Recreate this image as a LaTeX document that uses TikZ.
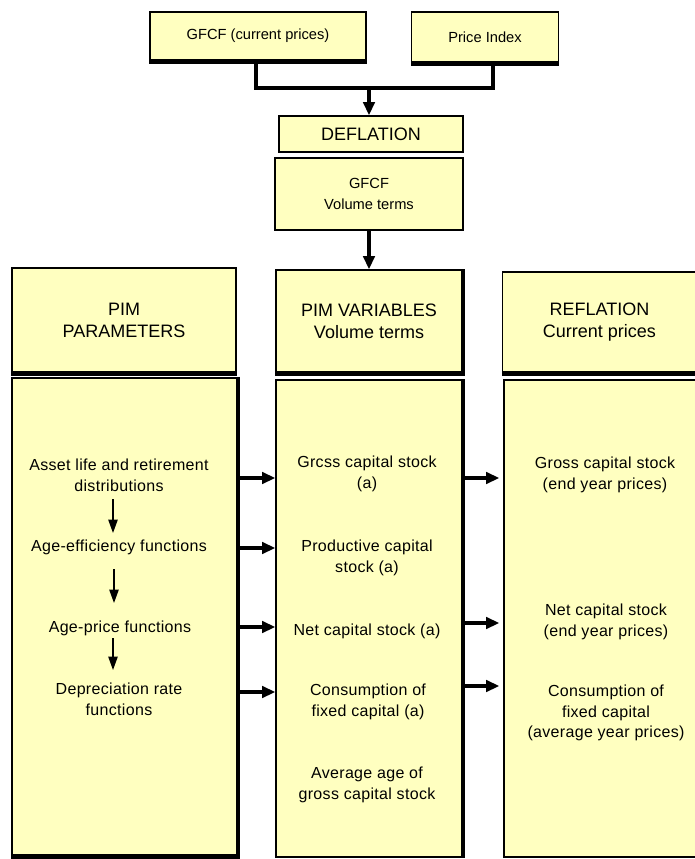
\documentclass[tikz,border=0pt]{standalone}
\usepackage{fontspec}
\setmainfont{Liberation Sans}
\usetikzlibrary{arrows.meta,calc}
\definecolor{boxfill}{RGB}{255,255,192}
\tikzset{
  pbox/.style={draw=black, line width=0.9pt, fill=boxfill, inner sep=0pt, align=center, font=\fontsize{11}{15.5}\selectfont},
  hbox/.style={pbox, font=\fontsize{13.5}{16.5}\selectfont},
  txt/.style={align=center, inner sep=0pt, font=\fontsize{12}{15.5}\selectfont\addfontfeatures{LetterSpace=2}},
  shadow/.style={line width=3pt, line cap=butt, line join=miter},
  bigarrow/.style={line width=3pt, -{Triangle[length=10pt,width=8.5pt]}},
  smallarrow/.style={line width=1pt, -{Triangle[length=10pt,width=7pt]}}
}
\begin{document}
\begin{tikzpicture}[x=0.75pt,y=-0.75pt]
\useasboundingbox (0,0) rectangle (694,859);
% top boxes
\node[pbox, minimum width=162pt, minimum height=36pt] (gfcf) at (258,36) {GFCF (current prices)};
\node[pbox, minimum width=110pt, minimum height=37.5pt] (pidx) at (485,37) {Price Index};
\draw[shadow] ([yshift=-1.2pt]gfcf.south west) -- ([yshift=-1.2pt]gfcf.south east);
\draw[shadow] ([yshift=-1.2pt]pidx.south west) -- ([yshift=-1.2pt]pidx.south east);
\node[pbox, font=\fontsize{13.5}{15}\selectfont, minimum width=138pt, minimum height=27pt] (defl) at (371,134) {DEFLATION};
\node[pbox, minimum width=141pt, minimum height=54pt] (vol) at (369,194) {GFCF\\Volume terms};
% merge connector
\coordinate (join) at (369,88);
\draw[line width=3pt, line join=miter] ([xshift=-1.5pt]gfcf.south) |- (join) -| ([xshift=6pt]pidx.south);
\draw[bigarrow] (join) -- (join |- defl.north);
% header boxes
\node[hbox, minimum width=168pt, minimum height=78pt] (pimp) at (124,320) {PIM\\PARAMETERS};
\node[hbox, minimum width=139.5pt, minimum height=76.5pt] (pimv) at (369,321) {PIM VARIABLES\\Volume terms};
\node[hbox, minimum width=145pt, minimum height=75pt] (refl) at (599.5,322) {REFLATION\\Current prices};
\draw[shadow] ([yshift=-1.2pt]pimp.south west) -- ([yshift=-1.2pt]pimp.south east);
\draw[shadow] ([yshift=-1.2pt]pimv.south west) -- ([yshift=-1.2pt,xshift=0.6pt]pimv.south east) -- ([xshift=0.6pt]pimv.north east);
\draw[shadow] ([yshift=-1.2pt]refl.south west) -- ([yshift=-1.2pt]refl.south east);
\draw[bigarrow] (vol.south) -- (pimv.north);
% big boxes
\node[pbox, minimum width=168.75pt, minimum height=357.75pt] (bigL) at (124.5,616.5) {};
\node[pbox, minimum width=139.5pt, minimum height=357.75pt] (bigM) at (369,618.5) {};
\node[pbox, minimum width=144pt, minimum height=357.75pt] (bigR) at (600,618.5) {};
\draw[shadow] ([yshift=-1.2pt]bigL.south west) -- ([yshift=-1.2pt,xshift=0.6pt]bigL.south east) -- ([xshift=0.6pt]bigL.north east);
\draw[shadow] ([xshift=0.6pt]bigM.south east) -- ([xshift=0.6pt]bigM.north east);
% left texts
\node[txt] (l1) at (119,475) {Asset life and retirement\\distributions};
\node[txt] (l2) at (119,547) {Age-efficiency functions};
\node[txt] (l3) at (120,628) {Age-price functions};
\node[txt] (l4) at (119,699) {Depreciation rate\\functions};
\draw[smallarrow] (113,499) -- (113,533);
\draw[smallarrow] (114,569) -- (114,603);
\draw[smallarrow] (113,638) -- (113,670);
% middle texts
\node[txt] (m1) at (367,474) {Grcss capital stock\\(a)};
\node[txt] (m2) at (367,558) {Productive capital\\stock (a)};
\node[txt] (m3) at (367,631) {Net capital stock (a)};
\node[txt] (m4) at (368,702) {Consumption of\\fixed capital (a)};
\node[txt] (m5) at (367,785) {Average age of\\gross capital stock};
% right texts
\node[txt] (r1) at (605,475) {Gross capital stock\\(end year prices)};
\node[txt] (r2) at (606,622) {Net capital stock\\(end year prices)};
\node[txt] (r3) at (606,713) {Consumption of\\fixed capital\\(average year prices)};
% arrows left -> middle
\foreach \yy in {478,548,627,692} {
  \draw[bigarrow] (bigL.east |- 0,\yy) -- (bigM.west |- 0,\yy);
}
% arrows middle -> right
\foreach \yy in {478,623,686} {
  \draw[bigarrow] (bigM.east |- 0,\yy) -- ([xshift=-3pt]bigR.west |- 0,\yy);
}
\end{tikzpicture}
\end{document}
